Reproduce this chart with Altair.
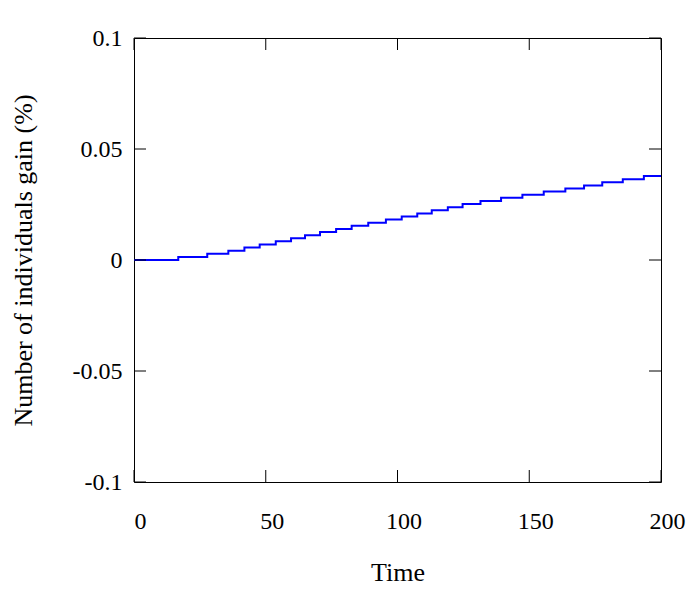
import altair as alt
import pandas as pd

# step transition times and cumulative gain levels
step_times = [0, 16.8, 27.8, 35.8, 41.9, 47.7, 53.8, 59.6, 64.9, 70.6, 76.7, 82.6,
              88.9, 95.6, 101.6, 107.5, 113.0, 119.1, 124.7, 131.5, 139.3, 147.4,
              155.5, 163.7, 170.8, 177.7, 185.5, 193.5, 200]
step_values = [0.0, 0.0014, 0.0028, 0.0042, 0.0056, 0.0070, 0.0084, 0.0098, 0.0112,
               0.0126, 0.0140, 0.0154, 0.0168, 0.0182, 0.0196, 0.0210, 0.0224, 0.0238,
               0.0252, 0.0266, 0.0280, 0.0294, 0.0308, 0.0322, 0.0336, 0.0350, 0.0364,
               0.0378, 0.0378]

x_ticks = [0, 50, 100, 150, 200]
y_ticks = [-0.1, -0.05, 0, 0.05, 0.1]

W, H = 527, 444
FONT = "Liberation Serif"
TL = 12

df = pd.DataFrame({"t": step_times, "v": step_values})
xt = pd.DataFrame({"t": x_ticks})
yt = pd.DataFrame({"v": y_ticks})

xscale = alt.Scale(domain=[0, 200], nice=False, zero=False)
yscale = alt.Scale(domain=[-0.1, 0.1], nice=False, zero=False)

line = alt.Chart(df).mark_line(color="#0000ff", strokeWidth=2, interpolate="step-after").encode(
    x=alt.X("t:Q", scale=xscale,
            axis=alt.Axis(title="Time", values=x_ticks, ticks=False, domain=False, grid=False,
                          labelFont=FONT, labelFontSize=24, labelColor="black", labelPadding=27,
                          labelOffset=6,
                          titleFont=FONT, titleFontSize=26, titleFontWeight="normal",
                          titleColor="black", titlePadding=26, labelFlush=False)),
    y=alt.Y("v:Q", scale=yscale,
            axis=alt.Axis(title="Number of individuals gain (%)", values=y_ticks, ticks=False,
                          domain=False, grid=False, labelExpr="toString(datum.value)",
                          labelFont=FONT, labelFontSize=24, labelColor="black", labelPadding=12,
                          titleFont=FONT, titleFontSize=26, titleFontWeight="normal",
                          titleColor="black", titlePadding=36, labelFlush=False)),
)

tb = alt.Chart(xt).mark_rule(color="black", strokeWidth=1).encode(
    x=alt.X("t:Q", scale=xscale), y=alt.value(H), y2=alt.value(H - TL))
tt = alt.Chart(xt).mark_rule(color="black", strokeWidth=1).encode(
    x=alt.X("t:Q", scale=xscale), y=alt.value(0), y2=alt.value(TL))
tl = alt.Chart(yt).mark_rule(color="black", strokeWidth=1).encode(
    y=alt.Y("v:Q", scale=yscale), x=alt.value(0), x2=alt.value(TL))
tr = alt.Chart(yt).mark_rule(color="black", strokeWidth=1).encode(
    y=alt.Y("v:Q", scale=yscale), x=alt.value(W - TL), x2=alt.value(W))

chart = alt.layer(line, tb, tt, tl, tr).properties(
    width=W, height=H,
    autosize=alt.AutoSizeParams(type="none"),
    padding={"left": 126, "top": 30, "right": 31, "bottom": 110},
).configure(background="white").configure_view(stroke="black", strokeWidth=1)

chart.save("out.html", embed_options={"renderer": "svg", "actions": False})
